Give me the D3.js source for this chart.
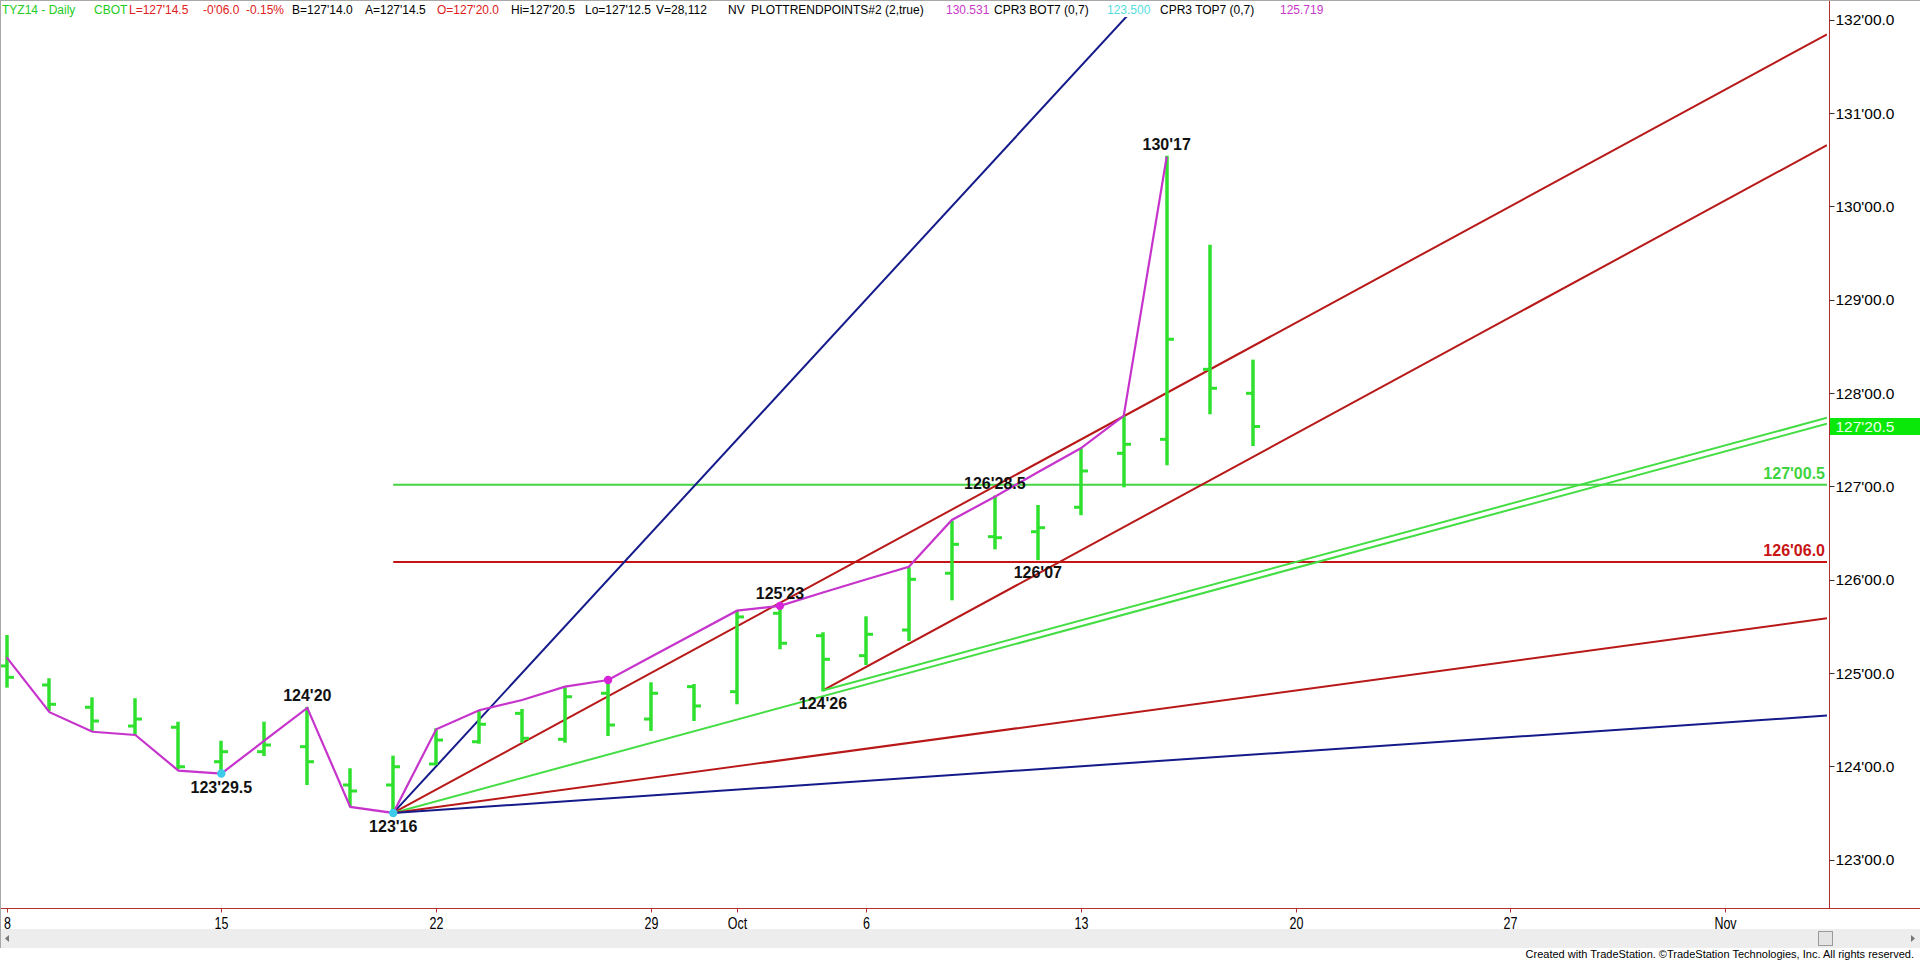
<!DOCTYPE html>
<html><head><meta charset="utf-8">
<script src="https://cdn.jsdelivr.net/npm/d3@7"></script>
<style>
html,body{margin:0;padding:0;background:#fff;overflow:hidden}
svg{display:block;font-family:Arial,"Liberation Sans",sans-serif}
</style></head><body>
<svg id="chart" width="1920" height="964"></svg>
<script>
// ---------- DATA ----------
const barDays = ["2014-09-08","2014-09-09","2014-09-10","2014-09-11","2014-09-12",
  "2014-09-15","2014-09-16","2014-09-17","2014-09-18","2014-09-19",
  "2014-09-22","2014-09-23","2014-09-24","2014-09-25","2014-09-26",
  "2014-09-29","2014-09-30","2014-10-01","2014-10-02","2014-10-03",
  "2014-10-06","2014-10-07","2014-10-08","2014-10-09","2014-10-10",
  "2014-10-13","2014-10-14","2014-10-15","2014-10-16","2014-10-17"];
const opens  = [125.075,124.871,124.632,124.431,124.418,124.049,124.156,124.21,123.8,123.8,
  124.024,124.263,124.567,124.289,124.782,124.506,124.853,124.799,125.639,125.399,
  125.185,125.46,126.068,126.46,126.513,126.775,127.353,127.503,128.253,127.996];
const highs  = [125.396,124.932,124.728,124.718,124.467,124.263,124.467,124.625,123.967,124.103,
  124.396,124.585,124.603,124.835,124.924,124.889,124.871,125.656,125.719,125.425,
  125.596,126.121,126.62,126.89,126.789,127.396,127.746,130.531,129.578,128.346];
const lows   = [124.853,124.603,124.389,124.353,123.978,123.922,124.121,123.81,123.585,123.5,
  124.024,124.252,124.263,124.263,124.335,124.389,124.496,124.675,125.264,124.8125,
  125.096,125.353,125.789,126.335,126.219,126.7,126.999,127.235,127.782,127.442];
const closes = [124.953,124.664,124.485,124.506,123.995,124.156,124.228,124.049,123.735,123.995,
  124.281,124.45,124.3,124.745,124.442,124.782,124.646,125.6,125.318,125.146,
  125.414,126.003,126.378,126.449,126.556,127.164,127.45,128.575,128.05,127.64];
// PlotTrendPoints swing line (bars 0..27)
const trendVals = [125.17,124.58,124.37,124.335,123.953,123.922,124.274,124.625,123.564,123.5,
  124.396,124.60,124.71,124.853,124.924,125.173,125.42,125.667,125.719,125.861,
  126.001,126.138,126.639,126.888,127.15,127.407,127.753,130.531];
// swing labels
const swingIdx = [5,7,9,18,19,23,24,27];
const swingVal = [123.921875,124.625,123.5,125.71875,124.8125,126.890625,126.21875,130.53125];
const swingPos = ["below","above","below","above","below","above","below","above"];
// markers
const dotIdx = [5,9,14,18];
const dotVal = [123.921875,123.5,124.924,125.71875];
const dotColor = ["#3ccbe8","#3ccbe8","#d822d8","#d822d8"];
// fan lines (angle lines)
const fanStartIdx = [9,9,9,9,9,19,19];
const fanStartVal = [123.5,123.5,123.5,123.5,123.5,124.8125,124.8125];
const fanSlope    = [0.5,0.25,0.125,0.0625,0.03125,0.25,0.125];
const fanColor    = ["#141a8a","#b81818","#44dd44","#b81818","#141a8a","#b81818","#44dd44"];
// horizontal levels
const levelVals  = [127.015625,126.1875];
const levelColor = ["#44d444","#c41414"];
const levelStart = 9;
// axes
const xTickIdx    = [0,5,10,15,17,20,25,30,35,40];
const xTickLabels = ["8","15","22","29","Oct","6","13","20","27","Nov"];
const yTickVals   = [123,124,125,126,127,128,129,130,131,132];
const lastPrice   = 127.640625;
// header
const headerTexts  = ["TYZ14 - Daily","CBOT","L=127'14.5","-0'06.0","-0.15%","B=127'14.0","A=127'14.5",
  "O=127'20.0","Hi=127'20.5","Lo=127'12.5","V=28,112","NV","PLOTTRENDPOINTS#2 (2,true)","130.531",
  "CPR3 BOT7 (0,7)","123.500","CPR3 TOP7 (0,7)","125.719"];
const headerX      = [2,94,129,203,246,292,365,437,511,585,656,728,751,946,994,1107,1160,1280];
const headerColors = ["#22cc22","#22cc22","#e02020","#e02020","#e02020","#000","#000","#e02020","#000","#000",
  "#000","#000","#000","#c838c8","#000","#55dede","#000","#c838c8"];

// ---------- HELPERS ----------
function fmt32(v, alwaysDec){
  const whole = Math.floor(v + 1e-9);
  const t = Math.round((v - whole) * 64) / 2; // 32nds with halves
  const ip = Math.floor(t), half = (t - ip) > 0.25;
  let s = whole + "'" + String(ip).padStart(2,"0");
  if (alwaysDec) s += half ? ".5" : ".0"; else if (half) s += ".5";
  return s;
}

// ---------- CHART ----------
const svg = d3.select("#chart");
const W = 1920, H = 964;
const plotRight = 1827, axisX = 1829.5, axisY = 908.5, plotTop = 17;
const x = d3.scaleLinear().domain([0,40]).range([6.5,1725.3]);
const y = d3.scaleLinear().domain([123,132]).range([859.6,19.6]);

svg.append("rect").attr("width",W).attr("height",H).attr("fill","#fff");

svg.append("defs").append("clipPath").attr("id","plotClip")
  .append("rect").attr("x",0).attr("y",plotTop).attr("width",plotRight).attr("height",axisY-plotTop);

const plot = svg.append("g").attr("clip-path","url(#plotClip)");

// horizontal levels
plot.selectAll(".lvl").data(levelVals).enter().append("line")
  .attr("x1",x(levelStart)).attr("x2",plotRight)
  .attr("y1",d=>y(d)).attr("y2",d=>y(d))
  .attr("stroke",(d,i)=>levelColor[i]).attr("stroke-width",2);

// fan lines
const xEnd = x.invert(plotRight);
plot.selectAll(".fan").data(fanSlope).enter().append("line")
  .attr("x1",(d,i)=>x(fanStartIdx[i])).attr("y1",(d,i)=>y(fanStartVal[i]))
  .attr("x2",x(xEnd)).attr("y2",(d,i)=>y(fanStartVal[i] + d*(xEnd - fanStartIdx[i])))
  .attr("stroke",(d,i)=>fanColor[i]).attr("stroke-width",2);

// OHLC bars
const barG = plot.append("g").attr("stroke","#2fe02f");
barDays.forEach((d,i)=>{
  const cx = Math.round(x(i));
  barG.append("line").attr("x1",cx).attr("x2",cx).attr("y1",y(highs[i])-1).attr("y2",y(lows[i])+1).attr("stroke-width",3.5);
  barG.append("line").attr("x1",cx-7).attr("x2",cx).attr("y1",y(opens[i])).attr("y2",y(opens[i])).attr("stroke-width",3);
  barG.append("line").attr("x1",cx).attr("x2",cx+7).attr("y1",y(closes[i])).attr("y2",y(closes[i])).attr("stroke-width",3);
});

// trend points line
plot.append("path").datum(trendVals)
  .attr("d", d3.line().x((d,i)=>x(i)).y(d=>y(d)))
  .attr("fill","none").attr("stroke","#c634cc").attr("stroke-width",2.2);

// dots
plot.selectAll(".dot").data(dotIdx).enter().append("circle")
  .attr("cx",d=>x(d)).attr("cy",(d,i)=>y(dotVal[i])).attr("r",4.2)
  .attr("fill",(d,i)=>dotColor[i]);

// swing labels
svg.selectAll(".swl").data(swingIdx).enter().append("text")
  .attr("x",d=>x(d)).attr("y",(d,i)=> swingPos[i]==="above" ? y(swingVal[i])-7 : y(swingVal[i])+19)
  .attr("text-anchor","middle").attr("font-size","16px").attr("font-weight","bold").attr("fill","#111")
  .text((d,i)=>fmt32(swingVal[i],false));

// level labels
svg.selectAll(".lvll").data(levelVals).enter().append("text")
  .attr("x",plotRight-2).attr("y",d=>y(d)-6)
  .attr("text-anchor","end").attr("font-size","16px").attr("font-weight","bold")
  .attr("fill",(d,i)=>levelColor[i]==="#44d444" ? "#3ed43e" : "#c81414")
  .text(d=>fmt32(d,true));

// right axis
const axisColor = "#b03030";
svg.append("line").attr("x1",axisX).attr("x2",axisX).attr("y1",0).attr("y2",axisY).attr("stroke",axisColor).attr("stroke-width",1);
const yAx = svg.append("g");
yTickVals.forEach(v=>{
  yAx.append("line").attr("x1",axisX).attr("x2",axisX+5).attr("y1",Math.round(y(v))+0.5).attr("y2",Math.round(y(v))+0.5).attr("stroke","#333");
  yAx.append("text").attr("x",axisX+6).attr("y",y(v)).attr("dy","0.36em").attr("font-size","15.5px").attr("fill","#000").text(fmt32(v,true));
});
// last price box
svg.append("rect").attr("x",axisX+0.5).attr("y",y(lastPrice)-8.5).attr("width",W-axisX).attr("height",17).attr("fill","#0ae80a");
svg.append("text").attr("x",axisX+6).attr("y",y(lastPrice)).attr("dy","0.36em").attr("font-size","15.5px").attr("fill","#eaffea").text(fmt32(lastPrice,true));

// bottom axis
svg.append("line").attr("x1",0).attr("x2",W).attr("y1",axisY).attr("y2",axisY).attr("stroke",axisColor).attr("stroke-width",1.2);
xTickIdx.forEach((ti,k)=>{
  const tx = Math.round(x(ti))+0.5;
  svg.append("line").attr("x1",tx).attr("x2",tx).attr("y1",axisY).attr("y2",axisY+4).attr("stroke",axisColor);
  svg.append("text").attr("transform",`translate(${tx},${axisY+20}) scale(0.78,1)`)
    .attr("text-anchor","middle").attr("font-size","16px").attr("fill","#000").text(xTickLabels[k]);
});

// scrollbar
svg.append("rect").attr("x",0).attr("y",929).attr("width",W).attr("height",19).attr("fill","#ededed");
svg.append("path").attr("d","M9,935 L5,938.5 L9,942 Z").attr("fill","#777");
svg.append("path").attr("d","M1911,935 L1915,938.5 L1911,942 Z").attr("fill","#777");
svg.append("rect").attr("x",1818.5).attr("y",931.5).attr("width",14).attr("height",14).attr("fill","#e4e4e4").attr("stroke","#9a9a9a");

// footer
svg.append("text").attr("x",1914).attr("y",958).attr("text-anchor","end").attr("font-size","11px")
  .attr("fill","#000")
  .text("Created with TradeStation. \u00A9TradeStation Technologies, Inc. All rights reserved.");

// frame
svg.append("line").attr("x1",0.5).attr("x2",0.5).attr("y1",0).attr("y2",948).attr("stroke","#a8a8a8");
svg.append("line").attr("x1",0).attr("x2",W).attr("y1",0.5).attr("y2",0.5).attr("stroke","#a8a8a8");

// header
svg.selectAll(".hdr").data(headerTexts).enter().append("text")
  .attr("x",(d,i)=>headerX[i]).attr("y",14).attr("font-size","12px")
  .attr("fill",(d,i)=>headerColors[i]).text(d=>d);
</script>
</body></html>
